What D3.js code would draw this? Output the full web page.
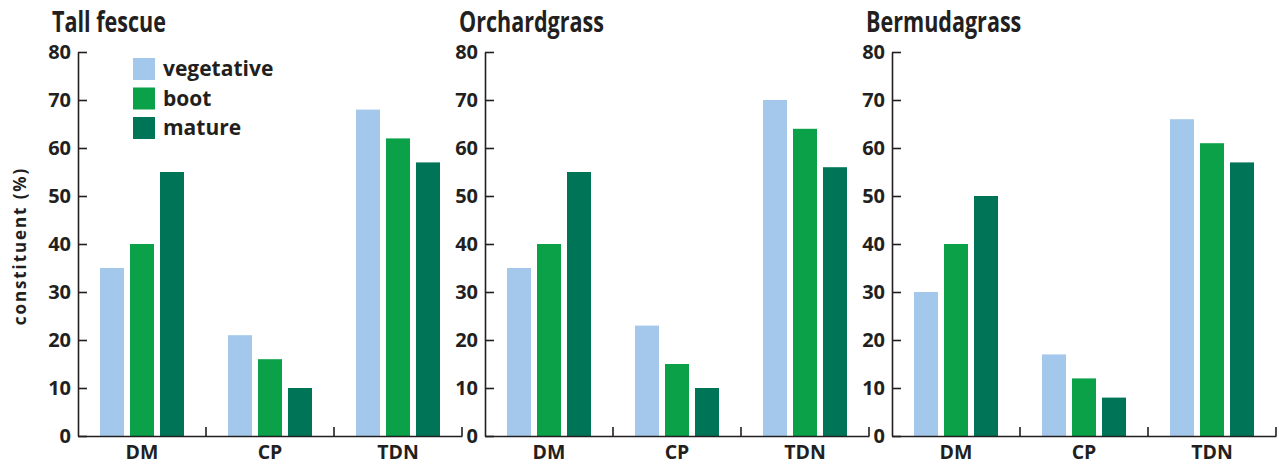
<!DOCTYPE html>
<html>
<head>
<meta charset="utf-8">
<script src="https://cdn.jsdelivr.net/npm/d3@7"></script>
<style>
  html, body { margin: 0; padding: 0; background: #fff; }
  svg { display: block; }
  .tick text { font-family: "Open Sans", "Noto Sans", sans-serif; font-weight: 700; }
</style>
</head>
<body>
<svg id="chart" width="1279" height="465"></svg>
<script>
// ---- data ----
const panels = ["Tall fescue", "Orchardgrass", "Bermudagrass"];
const categories = ["DM", "CP", "TDN"];
const stages = ["vegetative", "boot", "mature"];
const tallFescue   = [[35, 40, 55], [21, 16, 10], [68, 62, 57]];
const orchardgrass = [[35, 40, 55], [23, 15, 10], [70, 64, 56]];
const bermudagrass = [[30, 40, 50], [17, 12, 8],  [66, 61, 57]];
const panelValues = [tallFescue, orchardgrass, bermudagrass];
const yTicks = [0, 10, 20, 30, 40, 50, 60, 70, 80];
const yLabel = "constituent (%)";
const colors = ["#a3c8eb", "#0aa148", "#007457"];

// ---- layout ----
const svg = d3.select("#chart");
const ink = "#231f20";
const plotTop = 52, plotBottom = 436;
const plotW = 384;
const panelX = d3.scalePoint().domain(panels).range([78, 892]);

const y = d3.scaleLinear().domain([0, 80]).range([plotBottom, plotTop]);
const x = d3.scaleBand().domain(categories).range([0, plotW]).paddingInner(0).paddingOuter(0);
const xs = d3.scaleBand().domain(stages).range([22, 106]).paddingInner(0.2).paddingOuter(0);
const color = d3.scaleOrdinal().domain(stages).range(colors);

panels.forEach((name, pi) => {
  const g = svg.append("g").attr("transform", `translate(${panelX(name)},0)`);
  const vals = panelValues[pi];

  // title (condensed bold look)
  g.append("text")
    .attr("transform", "translate(-26,32) scale(0.77,1)")
    .attr("font-family", "'Open Sans', 'Noto Sans', sans-serif")
    .attr("font-weight", 700).attr("font-size", 28)
    .attr("fill", ink)
    .text(name);

  // bars
  categories.forEach((c, ci) => {
    g.append("g").selectAll("rect")
      .data(stages.map((s, si) => ({ s, v: vals[ci][si] })))
      .join("rect")
      .attr("x", d => x(c) + xs(d.s))
      .attr("width", xs.bandwidth())
      .attr("y", d => y(d.v))
      .attr("height", d => y(0) - y(d.v))
      .attr("fill", d => color(d.s));
  });

  // y axis
  const ya = g.append("g")
    .call(d3.axisLeft(y).tickValues(yTicks).tickSizeInner(-9).tickSizeOuter(0).tickPadding(7));
  ya.select(".domain").attr("stroke", ink).attr("stroke-width", 1.6);
  ya.selectAll(".tick line").attr("stroke", ink).attr("stroke-width", 1.6);
  ya.selectAll(".tick text").attr("font-size", 20).attr("fill", ink);

  // x axis
  const xa = g.append("g").attr("transform", `translate(0,${plotBottom})`)
    .call(d3.axisBottom(x).tickSize(0));
  xa.select(".domain").attr("stroke", ink).attr("stroke-width", 1.6);
  xa.selectAll(".tick text").attr("font-size", 19.5).attr("fill", ink)
    .attr("y", 23).attr("dy", 0);
  xa.selectAll("line.bound")
    .data(categories)
    .join("line").attr("class", "bound")
    .attr("x1", c => x(c) + x.step()).attr("x2", c => x(c) + x.step())
    .attr("y1", 0).attr("y2", -9)
    .attr("stroke", ink).attr("stroke-width", 1.6);
});

// y label
svg.append("text")
  .attr("transform", `translate(26,${(plotTop + plotBottom) / 2 + 2}) rotate(-90)`)
  .attr("text-anchor", "middle")
  .attr("font-family", "'Open Sans', 'Noto Sans', sans-serif")
  .attr("font-weight", 700).attr("font-size", 17)
  .attr("letter-spacing", 1.9)
  .attr("fill", ink)
  .text(yLabel);

// legend
const leg = svg.append("g").attr("transform", `translate(133,58)`);
const ly = d3.scalePoint().domain(stages).range([0, 59]);
stages.forEach(s => {
  leg.append("rect").attr("x", 0).attr("y", ly(s)).attr("width", 22).attr("height", 22).attr("fill", color(s));
  leg.append("text").attr("x", 30).attr("y", ly(s) + 18)
    .attr("font-family", "'Open Sans', 'Noto Sans', sans-serif")
    .attr("font-weight", 700).attr("font-size", 21)
    .attr("fill", ink).text(s);
});
</script>
</body>
</html>
